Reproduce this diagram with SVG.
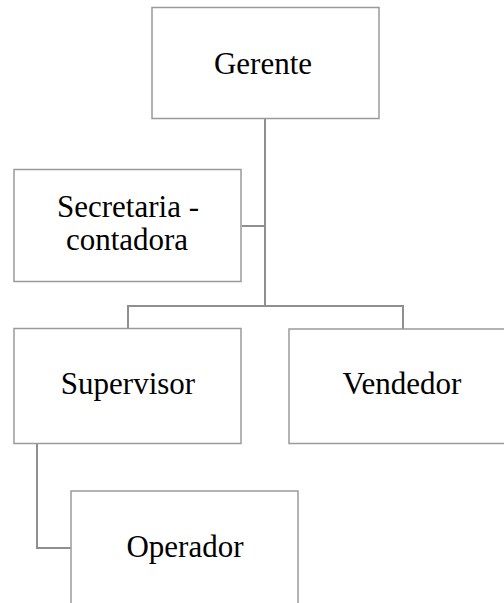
<svg xmlns="http://www.w3.org/2000/svg" width="504" height="603" viewBox="0 0 504 603">
<style>
.box{fill:#ffffff;stroke:#9a9a9a;stroke-width:1.5}
.lbl{font-family:'Liberation Serif','Times New Roman',Times,'DejaVu Serif',serif;font-size:31px;fill:#000;text-anchor:middle}
.con{fill:none;stroke:#8f8f8f;stroke-width:2}
</style>
<rect width="504" height="603" fill="#ffffff"/>
<g id="connectors">
<path class="con" d="M265,118 V306"/>
<path class="con" d="M242,226 H265"/>
<path class="con" d="M128,328 V306 H403 V329"/>
<path class="con" d="M37,443 V548 H71"/>
</g>
<g id="gerente">
<rect class="box" x="152" y="7.5" width="227" height="111"/>
<text class="lbl" x="263" y="74">Gerente</text>
</g>
<g id="secretaria">
<rect class="box" x="14" y="169.5" width="227" height="112"/>
<text class="lbl" x="128" y="217">Secretaria -</text>
<text class="lbl" x="127" y="250">contadora</text>
</g>
<g id="supervisor">
<rect class="box" x="14" y="328.5" width="227" height="115"/>
<text class="lbl" x="128" y="394">Supervisor</text>
</g>
<g id="vendedor">
<rect class="box" x="289" y="329" width="227" height="114.5"/>
<text class="lbl" x="402" y="394">Vendedor</text>
</g>
<g id="operador">
<rect class="box" x="71" y="491" width="227" height="120"/>
<text class="lbl" x="185" y="557">Operador</text>
</g>
</svg>
